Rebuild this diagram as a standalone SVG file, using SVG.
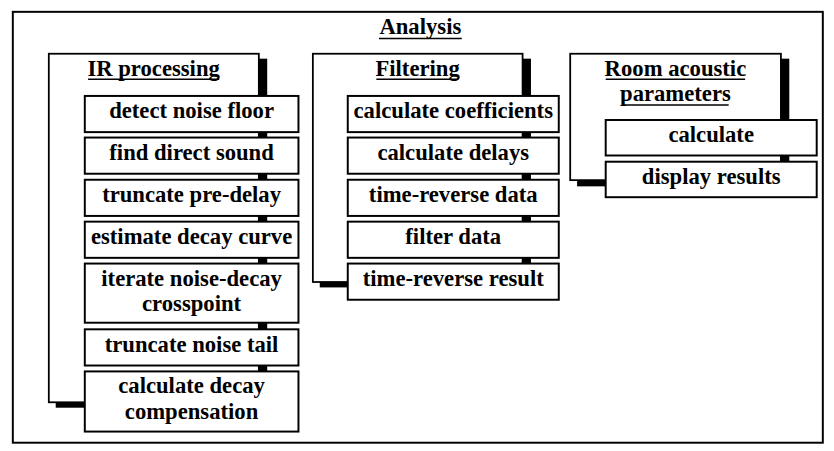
<svg xmlns="http://www.w3.org/2000/svg" width="834" height="451" viewBox="0 0 834 451">
  <style>
    .frame { fill: #fff; stroke: #000; stroke-width: 2; }
    .group { fill: #fff; stroke: #000; stroke-width: 1.8; }
    .shadow { fill: #000; stroke: none; }
    .step { fill: #fff; stroke: #000; stroke-width: 2; }
    .ul { stroke: #000; stroke-width: 1.6; }
    text { font-family: "Liberation Serif", "Times New Roman", serif; font-weight: bold; font-size: 23px; fill: #000; text-anchor: middle; }
  </style>

  <g transform="scale(0.986)">
  <!-- outer analysis frame -->
  <g id="analysis">
    <rect class="frame" x="13" y="12" width="821.5" height="437"/>
    <text x="426.3" y="34.5">Analysis</text>
    <line class="ul" x1="384.3" y1="39" x2="468.3" y2="39"/>
  </g>

  <!-- IR processing -->
  <g id="ir-processing">
    <rect class="shadow" x="56.5" y="59.5" width="214.5" height="354"/>
    <rect class="group" x="49.5" y="54.5" width="213" height="353.5"/>
    <text x="155.8" y="77.5">IR processing</text>
    <line class="ul" x1="89.3" y1="80.3" x2="222.3" y2="80.3"/>
  </g>
  <g id="detect-noise-floor">
    <rect class="step" x="86" y="97.3" width="216.7" height="36.7"/>
    <text x="194.3" y="119.5">detect noise floor</text>
  </g>
  <g id="find-direct-sound">
    <rect class="step" x="86" y="139.5" width="216.7" height="36.7"/>
    <text x="194.3" y="162">find direct sound</text>
  </g>
  <g id="truncate-pre-delay">
    <rect class="step" x="86" y="182.3" width="216.7" height="36.7"/>
    <text x="194.3" y="204.8">truncate pre-delay</text>
  </g>
  <g id="estimate-decay-curve">
    <rect class="step" x="86" y="224.8" width="216.7" height="36.7"/>
    <text x="194.3" y="247.3">estimate decay curve</text>
  </g>
  <g id="iterate-crosspoint">
    <rect class="step" x="86" y="267.3" width="216.7" height="60"/>
    <text x="194.3" y="289.8">iterate noise-decay</text>
    <text x="194.3" y="315.6">crosspoint</text>
  </g>
  <g id="truncate-noise-tail">
    <rect class="step" x="86" y="334" width="216.7" height="36.7"/>
    <text x="194.3" y="356.5">truncate noise tail</text>
  </g>
  <g id="decay-compensation">
    <rect class="step" x="86" y="376.7" width="216.7" height="61"/>
    <text x="194.3" y="399">calculate decay</text>
    <text x="194.3" y="425">compensation</text>
  </g>

  <!-- Filtering -->
  <g id="filtering">
    <rect class="shadow" x="324.3" y="59.5" width="214.2" height="232"/>
    <rect class="group" x="317.3" y="54.5" width="212.7" height="231.5"/>
    <text x="423.5" y="77.5">Filtering</text>
    <line class="ul" x1="381.7" y1="80.3" x2="465" y2="80.3"/>
  </g>
  <g id="calculate-coefficients">
    <rect class="step" x="352.7" y="97.3" width="214" height="36.7"/>
    <text x="459.7" y="119.5">calculate coefficients</text>
  </g>
  <g id="calculate-delays">
    <rect class="step" x="352.7" y="139.5" width="214" height="36.7"/>
    <text x="459.7" y="162">calculate delays</text>
  </g>
  <g id="time-reverse-data">
    <rect class="step" x="352.7" y="182.3" width="214" height="36.7"/>
    <text x="459.7" y="204.8">time-reverse data</text>
  </g>
  <g id="filter-data">
    <rect class="step" x="352.7" y="224.8" width="214" height="36.7"/>
    <text x="459.7" y="247.3">filter data</text>
  </g>
  <g id="time-reverse-result">
    <rect class="step" x="352.7" y="267.3" width="214" height="36.7"/>
    <text x="459.7" y="289.8">time-reverse result</text>
  </g>

  <!-- Room acoustic parameters -->
  <g id="room-acoustic-parameters">
    <rect class="shadow" x="585.3" y="59.5" width="215.2" height="129.5"/>
    <rect class="group" x="578.3" y="54.5" width="213.7" height="128.2"/>
    <text x="685" y="77.5">Room acoustic</text>
    <line class="ul" x1="614.3" y1="80.3" x2="755.7" y2="80.3"/>
    <text x="685" y="102">parameters</text>
    <line class="ul" x1="631" y1="106.5" x2="739" y2="106.5"/>
  </g>
  <g id="calculate">
    <rect class="step" x="614.3" y="121.7" width="214" height="36"/>
    <text x="721.3" y="144">calculate</text>
  </g>
  <g id="display-results">
    <rect class="step" x="614.3" y="164" width="214" height="36"/>
    <text x="721.3" y="186.3">display results</text>
  </g>
  </g>
</svg>
